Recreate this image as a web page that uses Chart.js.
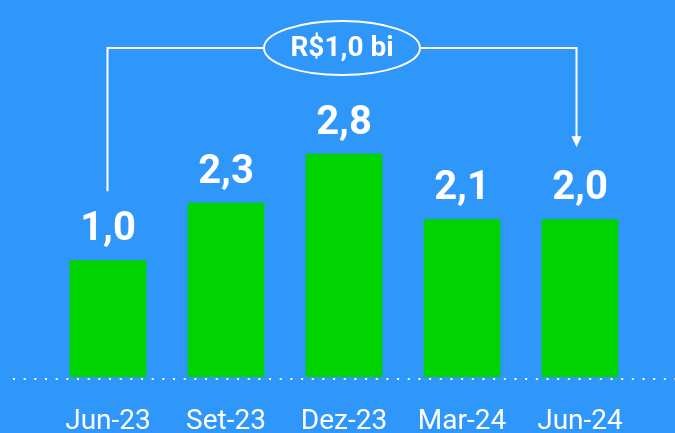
<!DOCTYPE html>
<html>
<head>
<meta charset="utf-8">
<script src="https://cdn.jsdelivr.net/npm/chart.js@4"></script>
<style>
  html, body { margin: 0; padding: 0; background: #2f96fa; }
  #wrap { width: 675px; height: 433px; }
</style>
</head>
<body>
<div id="wrap"><canvas id="grafico"></canvas></div>
<script>
// dados
const categorias = ['Jun-23', 'Set-23', 'Dez-23', 'Mar-24', 'Jun-24'];
const rotulos = ['1,0', '2,3', '2,8', '2,1', '2,0'];
// altura das barras (a imagem não desenha as barras proporcionais aos rótulos)
const alturas = [1.0, 1.49, 1.91, 1.35, 1.35];
const destaque = 'R$1,0 bi';

const FUNDO = '#2f96fa';
const VERDE = '#00d400';
const BRANCO = '#ffffff';

// fundo, linha pontilhada, rótulos e a chave com a elipse
const desenhos = {
  id: 'desenhos',
  beforeDraw(chart) {
    const ctx = chart.ctx;
    ctx.save();
    ctx.fillStyle = FUNDO;
    ctx.fillRect(0, 0, chart.width, chart.height);
    ctx.restore();
  },
  afterDatasetsDraw(chart) {
    const ctx = chart.ctx;
    const area = chart.chartArea;
    const barras = chart.getDatasetMeta(0).data;
    ctx.save();

    // linha de base pontilhada
    ctx.strokeStyle = BRANCO;
    ctx.lineWidth = 2;
    ctx.setLineDash([2, 8.67]);
    ctx.beginPath();
    ctx.moveTo(13, area.bottom + 2);
    ctx.lineTo(chart.width, area.bottom + 2);
    ctx.stroke();
    ctx.setLineDash([]);

    // valores acima das barras
    ctx.fillStyle = BRANCO;
    ctx.font = 'bold 40px Roboto';
    ctx.textAlign = 'center';
    ctx.textBaseline = 'alphabetic';
    const topos = [];
    barras.forEach((b, i) => {
      const base = b.y - 20;
      ctx.fillText(rotulos[i], b.x, base);
      topos.push(base - 29);
    });

    // chave de Jun-23 a Jun-24
    const xa = barras[0].x - 0.5;
    const xb = barras[4].x - 3.5;
    const yTopo = 48;
    const cx = (xa + xb) / 2;
    const rx = 78, ry = 27;
    ctx.strokeStyle = BRANCO;
    ctx.lineWidth = 2;
    ctx.beginPath();
    ctx.moveTo(xa, topos[0] - 20);
    ctx.lineTo(xa, yTopo);
    ctx.lineTo(cx - rx, yTopo);
    ctx.moveTo(cx + rx, yTopo);
    ctx.lineTo(xb, yTopo);
    const ponta = topos[4] - 23;
    ctx.lineTo(xb, ponta - 10);
    ctx.stroke();
    ctx.fillStyle = BRANCO;
    ctx.beginPath();
    ctx.moveTo(xb - 5, ponta - 11);
    ctx.lineTo(xb + 5, ponta - 11);
    ctx.lineTo(xb, ponta);
    ctx.closePath();
    ctx.fill();

    ctx.beginPath();
    ctx.ellipse(cx, yTopo, rx, ry, 0, 0, Math.PI * 2);
    ctx.stroke();
    ctx.font = 'bold 28px Roboto';
    ctx.textBaseline = 'middle';
    ctx.fillText(destaque, cx, yTopo + 1);
    ctx.restore();
  }
};

new Chart(document.getElementById('grafico'), {
  type: 'bar',
  data: {
    labels: categorias,
    datasets: [{
      data: alturas,
      backgroundColor: VERDE,
      borderWidth: 0,
      categoryPercentage: 1,
      barPercentage: 0.65
    }]
  },
  options: {
    responsive: true,
    maintainAspectRatio: false,
    animation: false,
    events: [],
    layout: { padding: { top: 3, left: 49, right: 36, bottom: 0 } },
    plugins: {
      legend: { display: false },
      tooltip: { enabled: false }
    },
    scales: {
      x: {
        grid: { display: false, drawTicks: false },
        border: { display: false },
        ticks: {
          color: BRANCO,
          padding: 31,
          font: { family: 'Roboto', size: 28, lineHeight: 1 }
        },
        afterFit(scale) {
          scale.height = 56;
        }
      },
      y: {
        display: false,
        min: 0,
        max: 3.2
      }
    }
  },
  plugins: [desenhos]
});
</script>
</body>
</html>
